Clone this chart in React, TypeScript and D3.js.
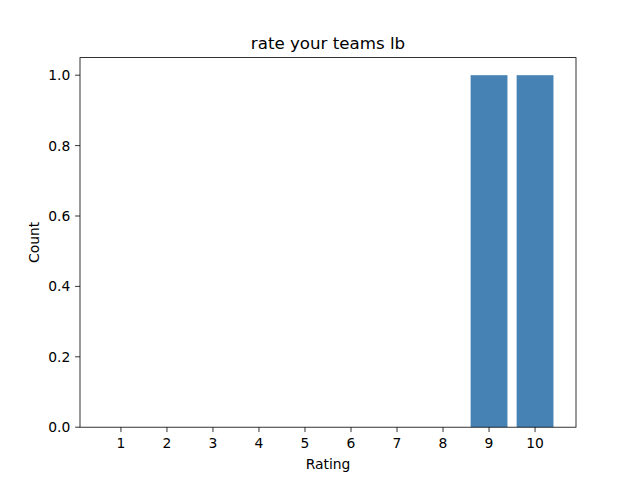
import React from "react";
import * as d3 from "d3";

const ratings = [1, 2, 3, 4, 5, 6, 7, 8, 9, 10];
const counts = [0, 0, 0, 0, 0, 0, 0, 0, 1, 1];
const yTicks = [0, 0.2, 0.4, 0.6, 0.8, 1.0];
const titleText = "rate your teams lb";
const xLabelText = "Rating";
const yLabelText = "Count";

const W = 640, H = 480;
const L = 80, R = 576, T = 57.6, B = 427.2;
const FONT = "DejaVu Sans, sans-serif";
const FS = 13.89;

export default function App() {
  const barW = 0.8;
  const xmin = ratings[0] - barW / 2, xmax = ratings[ratings.length - 1] + barW / 2;
  const pad = (xmax - xmin) * 0.05;
  const x = d3.scaleLinear().domain([xmin - pad, xmax + pad]).range([L, R]);
  const ymax = d3.max(counts) as number;
  const y = d3.scaleLinear().domain([0, ymax * 1.05]).range([B, T]);
  const tick = 4.86;
  const fmt = d3.format(".1f");
  return (
    <svg width={W} height={H} style={{ position: "absolute", left: 0, top: 0, background: "#fff" }}>
      <rect x={0} y={0} width={W} height={H} fill="#fff" />
      {ratings.map((r, i) => (
        <rect key={r} x={x(r - barW / 2)} width={x(r + barW / 2) - x(r - barW / 2)}
          y={y(counts[i])} height={y(0) - y(counts[i])} fill="#4682b4" />
      ))}
      <rect x={L} y={T} width={R - L} height={B - T} fill="none" stroke="#000" strokeWidth={0.8} />
      {ratings.map((r) => (
        <g key={"xt" + r}>
          <line x1={x(r)} x2={x(r)} y1={B} y2={B + tick} stroke="#000" strokeWidth={0.8} />
          <text x={x(r)} y={B + tick + 4.86 + 10.6} fontFamily={FONT} fontSize={FS} textAnchor="middle">{r}</text>
        </g>
      ))}
      {yTicks.map((v) => (
        <g key={"yt" + v}>
          <line x1={L - tick} x2={L} y1={y(v)} y2={y(v)} stroke="#000" strokeWidth={0.8} />
          <text x={L - tick - 4.86} y={y(v)} dy="0.36em" fontFamily={FONT} fontSize={FS} textAnchor="end">{fmt(v)}</text>
        </g>
      ))}
      <text x={(L + R) / 2} y={T - 8.33} fontFamily={FONT} fontSize={16.67} textAnchor="middle">{titleText}</text>
      <text x={(L + R) / 2} y={468.5} fontFamily={FONT} fontSize={FS} textAnchor="middle">{xLabelText}</text>
      <text transform={`translate(39,${(T + B) / 2}) rotate(-90)`} fontFamily={FONT} fontSize={FS} textAnchor="middle">{yLabelText}</text>
    </svg>
  );
}
